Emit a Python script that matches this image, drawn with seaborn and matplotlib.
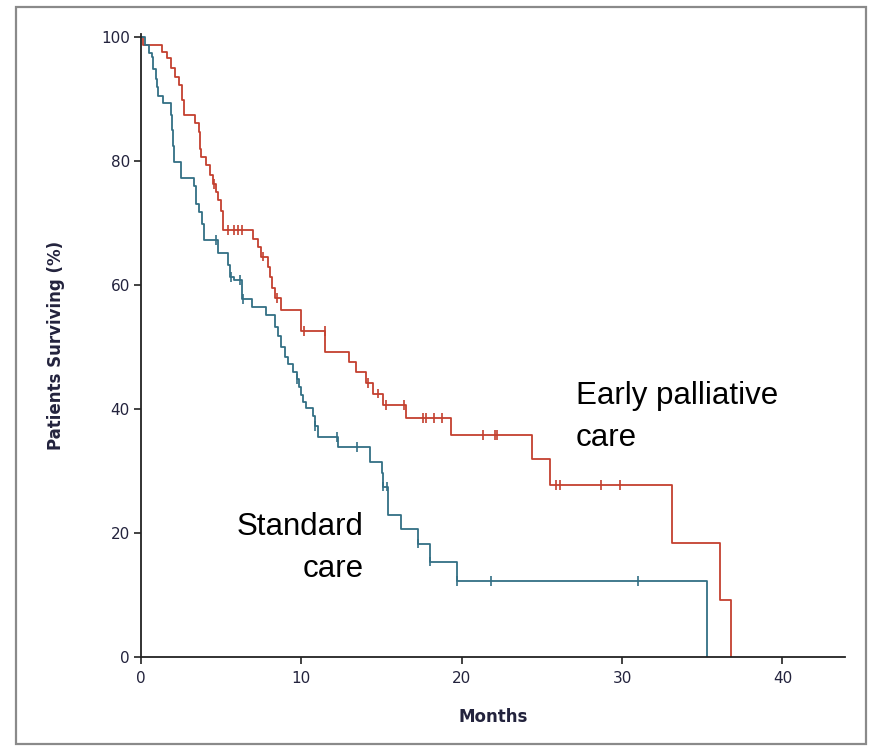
import numpy as np
import pandas as pd
import matplotlib.pyplot as plt
import matplotlib.patches as patches
import seaborn as sns

# Kaplan-Meier steps (months, % surviving after the drop)
early_t = [0, 0.15, 1.3, 1.6, 1.85, 2.15, 2.4, 2.55, 2.7, 3.35, 3.6, 3.7, 3.75, 4.05, 4.3,
           4.5, 4.65, 4.8, 5.0, 5.1, 7.0, 7.3, 7.5, 7.9, 8.05, 8.2, 8.35, 8.75, 10.0, 11.5,
           13.0, 13.4, 14.05, 14.45, 15.1, 16.55, 19.35, 24.4, 25.5, 33.1, 36.1, 36.8]
early_s = [100, 98.8, 97.6, 96.6, 95.0, 93.6, 92.3, 89.8, 87.4, 86.1, 84.7, 82.0, 80.7, 79.4, 77.7,
           76.3, 75.0, 73.7, 72.0, 68.9, 67.5, 66.2, 64.6, 62.9, 61.3, 59.5, 57.9, 56.0, 52.6, 49.2,
           47.6, 46.0, 44.2, 42.5, 40.6, 38.5, 35.8, 31.9, 27.7, 18.4, 9.2, 0]
early_cens = [4.55, 5.4, 5.8, 6.06, 6.27, 7.6, 8.45, 10.15, 11.45, 14.15, 14.75, 15.25, 16.4,
              17.6, 17.75, 18.25, 18.75, 21.35, 22.1, 22.2, 25.9, 26.1, 28.7, 29.85]

std_t = [0, 0.25, 0.5, 0.66, 0.76, 0.93, 0.97, 1.05, 1.38, 1.9, 1.95, 2.0, 2.05, 2.5, 3.3,
         3.4, 3.6, 3.8, 3.9, 4.8, 5.45, 5.55, 5.8, 6.27, 6.9, 7.8, 8.35, 8.55, 8.76, 8.97,
         9.17, 9.5, 9.7, 9.85, 9.95, 10.1, 10.3, 10.7, 10.85, 11.05, 12.3, 14.3, 15.0, 15.1,
         15.4, 16.2, 17.3, 18.0, 19.7, 35.3]
std_s = [100, 98.7, 97.5, 96.8, 94.9, 93.3, 92.0, 90.5, 89.3, 87.5, 85.0, 82.5, 79.9, 77.3, 75.9,
         73.0, 71.8, 69.9, 67.3, 65.1, 63.2, 61.3, 60.8, 57.8, 56.5, 55.2, 53.3, 51.7, 50.0, 48.4,
         47.3, 46.0, 44.9, 43.6, 42.3, 41.2, 40.1, 38.8, 37.2, 35.5, 33.9, 31.5, 29.6, 27.5,
         22.9, 20.7, 18.3, 15.4, 12.2, 0]
std_cens = [4.65, 5.6, 6.2, 6.35, 9.7, 10.85, 12.2, 13.45, 15.1, 15.35, 17.3, 18.0, 19.7, 21.8, 31.0]

x_ticks = [0, 10, 20, 30, 40]
y_ticks = [0, 20, 40, 60, 80, 100]

red = "#c4402f"
blue = "#336f85"
ink = "#23233d"


def at(times, surv, t):
    i = np.searchsorted(times, t, side="right") - 1
    return np.array(surv)[i]


curves = pd.concat([
    pd.DataFrame({"Months": early_t, "Surv": early_s, "arm": "Early palliative care"}),
    pd.DataFrame({"Months": std_t, "Surv": std_s, "arm": "Standard care"}),
])
marks = pd.concat([
    pd.DataFrame({"Months": early_cens, "Surv": at(early_t, early_s, early_cens), "arm": "Early palliative care"}),
    pd.DataFrame({"Months": std_cens, "Surv": at(std_t, std_s, std_cens), "arm": "Standard care"}),
])
pal = {"Early palliative care": red, "Standard care": blue}

sns.set_style("white")
fig = plt.figure(figsize=(8.72, 7.47), dpi=100)
ax = fig.add_axes([0.1617, 0.1205, 0.8073, 0.834])

sns.lineplot(data=curves, x="Months", y="Surv", hue="arm", palette=pal, estimator=None,
             drawstyle="steps-post", linewidth=1.3, legend=False, ax=ax)
sns.scatterplot(data=marks, x="Months", y="Surv", hue="arm", palette=pal, marker="|",
                s=50, linewidth=1.2, legend=False, ax=ax, zorder=3)

ax.set_xlim(0, 43.9)
ax.set_ylim(0, 100.5)
ax.set_xticks(x_ticks)
ax.set_yticks(y_ticks)
ax.tick_params(direction="out", length=5, width=1.2, color="#222222", labelsize=11,
               labelcolor=ink, left=True, bottom=True, pad=3)
ax.tick_params(axis="x", pad=5)
for side in ["top", "right"]:
    ax.spines[side].set_visible(False)
for side in ["left", "bottom"]:
    ax.spines[side].set_color("#222222")
    ax.spines[side].set_linewidth(1.3)

ax.set_xlabel("Months", fontsize=12, fontweight="bold", color=ink, labelpad=16)
ax.set_ylabel("Patients Surviving (%)", fontsize=12, fontweight="bold", color=ink, labelpad=26)

ax.text(27.1, 38.7, "Early palliative\ncare", fontsize=22.5, family="Liberation Sans",
        color="black", ha="left", va="center", linespacing=1.55)
ax.text(13.9, 17.6, "Standard\ncare", fontsize=22.5, family="Liberation Sans",
        color="black", ha="right", va="center", multialignment="right", linespacing=1.55)

fig.patches.append(patches.Rectangle((16 / 872, 3 / 747), 850 / 872, 737 / 747, fill=False,
                                     edgecolor="#8a8a8a", linewidth=1.6, transform=fig.transFigure))

fig.savefig("out.png", dpi=100)
